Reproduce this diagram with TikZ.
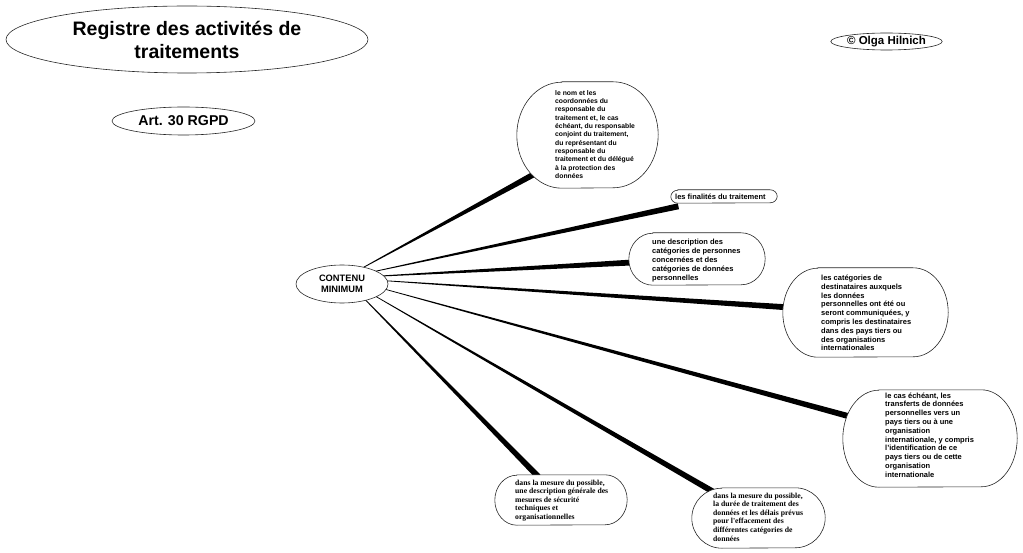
\documentclass[tikz,border=0pt]{standalone}
\usepackage{fontspec}
\setmainfont{Liberation Sans}
\newfontfamily\timesfont{Liberation Serif}
\usetikzlibrary{shapes.geometric,calc,backgrounds}
\begin{document}
\begin{tikzpicture}[x=1pt,y=-1pt,
  oval/.style={ellipse, draw=black!85, line width=0.6pt, fill=white, inner sep=0pt, align=center},
  bubblebox/.style={rectangle, inner sep=0pt, draw=none},
  bubbleline/.style={draw=black!85, line width=0.6pt, fill=white},
  btext/.style={anchor=west, inner sep=0pt, align=left, font=\bfseries\fontsize{7.5}{8.8}\selectfont},
  stext/.style={anchor=west, inner sep=0pt, align=left, font=\timesfont\bfseries\fontsize{7.7}{8.6}\selectfont},
  branchfill/.style={fill=black}]
\useasboundingbox (0,0) rectangle (1023,553);

% ellipses
\node[oval, minimum width=362pt, minimum height=67pt, font=\bfseries\fontsize{19.5}{23}\selectfont] (title) at (187,39.5) {Registre des activités de\\traitements};
\node[oval, minimum width=143pt, minimum height=28pt, font=\bfseries\fontsize{14.2}{17}\selectfont] (art) at (183.5,121) {Art. 30 RGPD};
\node[oval, minimum width=109pt, minimum height=17pt, font=\bfseries\fontsize{11.5}{13}\selectfont] (copy) at (886.5,41.5) {© Olga Hilnich};
\node[oval, minimum width=92pt, minimum height=38pt, font=\bfseries\fontsize{9.3}{11}\selectfont] (c) at (342,284) {CONTENU\\MINIMUM};

% bubble geometry
\node[bubblebox, minimum width=141pt, minimum height=106pt] (b1) at (587.5,135) {};
\node[bubblebox, minimum width=106pt, minimum height=13pt] (b2) at (724,196.5) {};
\node[bubblebox, minimum width=136pt, minimum height=52pt] (b3) at (697,259) {};
\node[bubblebox, minimum width=165pt, minimum height=89pt] (b4) at (865.5,312.5) {};
\node[bubblebox, minimum width=174pt, minimum height=97pt] (b5) at (930,438.5) {};
\node[bubblebox, minimum width=132pt, minimum height=50pt] (b6) at (561,500) {};
\node[bubblebox, minimum width=133pt, minimum height=60pt] (b7) at (758.5,518) {};

% bubble texts
\node[btext, font=\bfseries\fontsize{6.8}{8.35}\selectfont] (t1) at (555,134.5) {le nom et les\\coordonnées du\\responsable du\\traitement et, le cas\\échéant, du responsable\\conjoint du traitement,\\du représentant du\\responsable du\\traitement et du délégué\\à la protection des\\données};
\node[btext] (t2) at (675,196.5) {les finalités du traitement};
\node[btext] (t3) at (652,260.5) {une description des\\catégories de personnes\\concernées et des\\catégories de données\\personnelles};
\node[btext] (t4) at (821,313) {les catégories de\\destinataires auxquels\\les données\\personnelles ont été ou\\seront communiquées, y\\compris les destinataires\\dans des pays tiers ou\\des organisations\\internationales};
\node[btext] (t5) at (885,435) {le cas échéant, les\\transferts de données\\personnelles vers un\\pays tiers ou à une\\organisation\\internationale, y compris\\l’identification de ce\\pays tiers ou de cette\\organisation\\internationale};
\node[stext] (t6) at (515,500.5) {dans la mesure du possible,\\une description générale des\\mesures de sécurité\\techniques et\\organisationnelles};
\node[stext] (t7) at (713,517) {dans la mesure du possible,\\la durée de traitement des\\données et les délais prévus\\pour l'effacement des\\différentes catégories de\\données};

% connector geometry
\coordinate (hub) at ($(c.center)+(2,-6)$);
\coordinate (a1) at ($(b1.center)+(0,10)$);
\coordinate (e1) at ($(hub)!0.8!(a1)$);
\coordinate (e2) at ($(hub)!0.88!(b2)$);
\coordinate (e3) at ($(hub)!0.83!(b3)$);
\coordinate (e4) at ($(hub)!0.86!(b4)$);
\coordinate (e5) at ($(hub)!0.875!(b5)$);
\coordinate (e6) at ($(hub)!0.9!(b7)$);
\coordinate (e7) at ($(hub)!0.9!(b6)$);

\begin{scope}[on background layer]
  \foreach \e in {e1,e2,e3,e4,e5,e6,e7}
    \fill[branchfill] ($(hub)!0.1pt!90:(\e)$) -- ($(\e)!3pt!-90:(hub)$) -- ($(\e)!3pt!90:(hub)$) -- ($(hub)!0.1pt!-90:(\e)$) -- cycle;
  \foreach \nm/\rx/\ry in {b1/45/53, b2/7/6.5, b3/24/26, b4/35/44.5, b5/36/48.5, b6/22/25, b7/30/30}
    \draw[bubbleline] ($(\nm.north west)+(\rx,0)$) -- ($(\nm.north east)+(-\rx,0)$)
      arc[start angle=90,end angle=-90,x radius=\rx pt,y radius=\ry pt]
      -- ($(\nm.south west)+(\rx,0)$)
      arc[start angle=270,end angle=90,x radius=\rx pt,y radius=\ry pt] -- cycle;
\end{scope}
\end{tikzpicture}
\end{document}
